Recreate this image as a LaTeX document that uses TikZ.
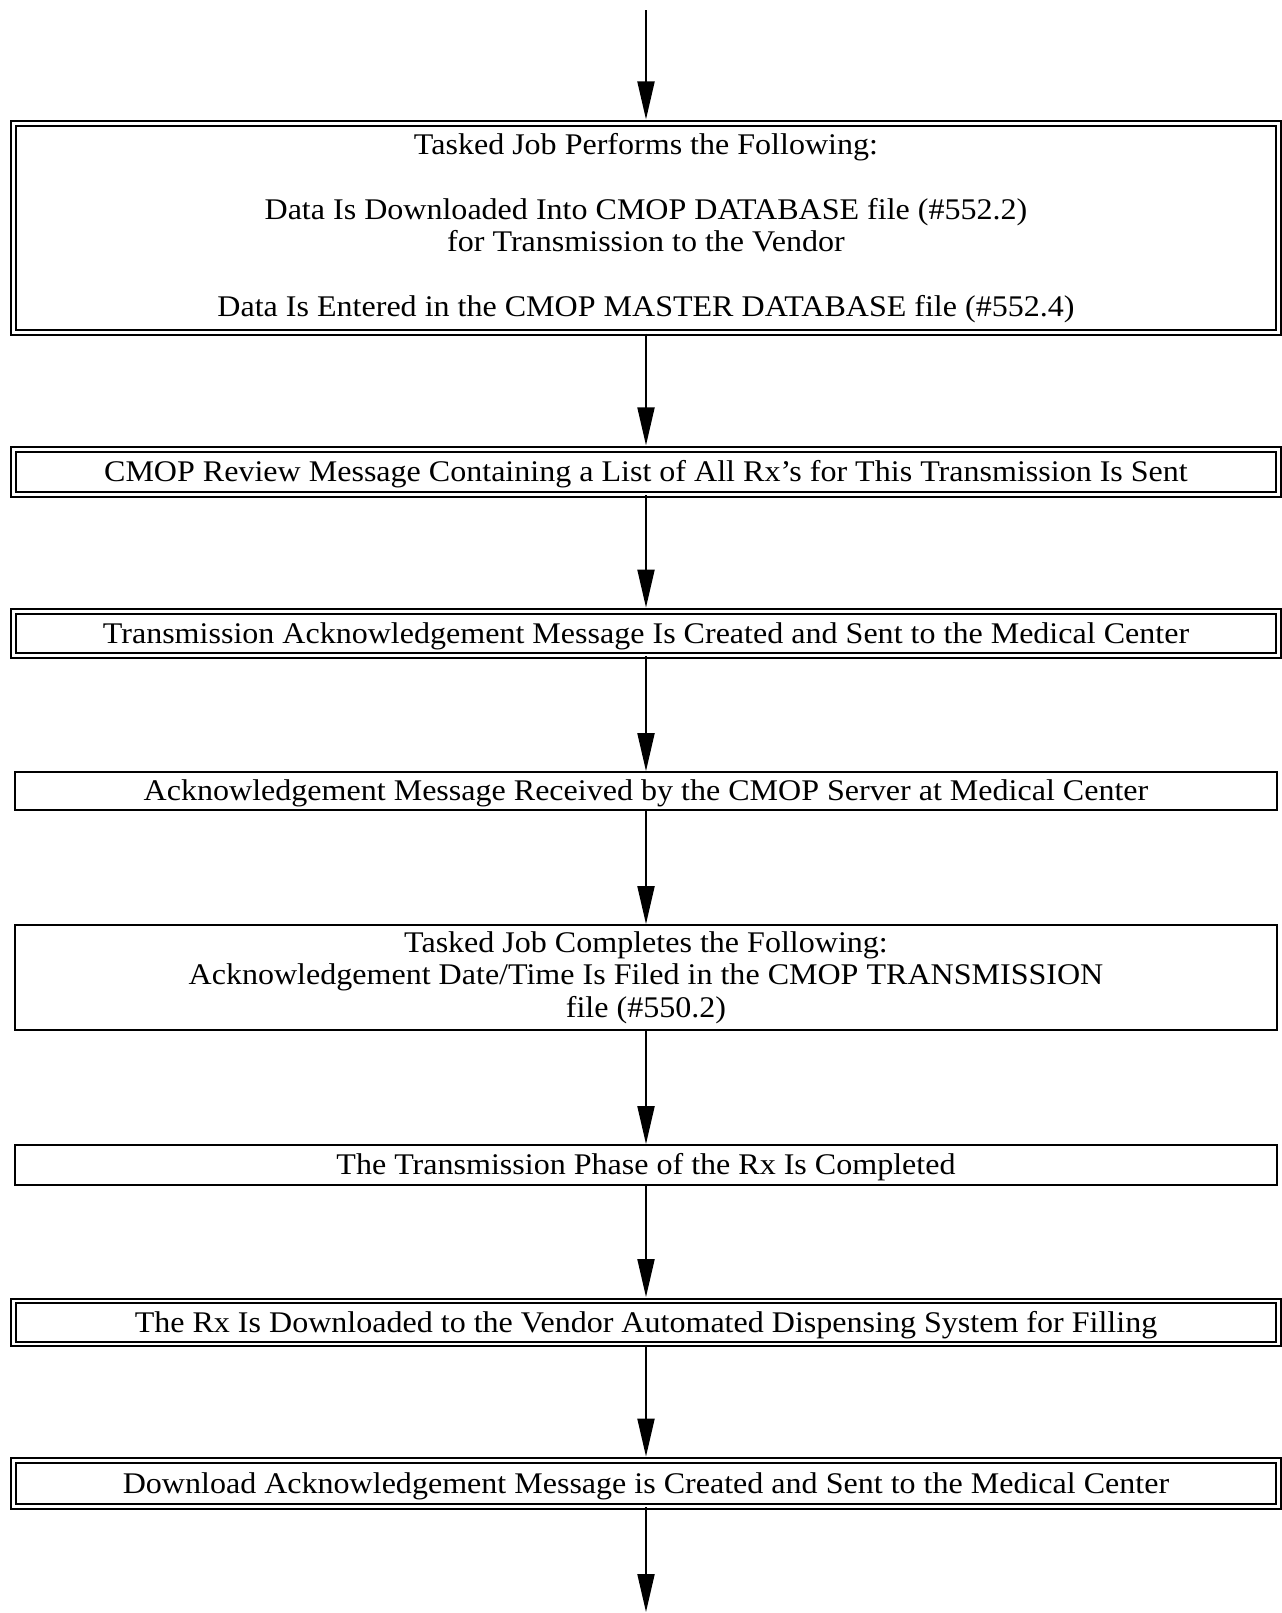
\documentclass[tikz,border=0pt]{standalone}
\usepackage{fontspec}
\setmainfont[FakeStretch=1.068]{Liberation Serif}
\usetikzlibrary{arrows.meta}

\begin{document}
\begin{tikzpicture}[
  x=0.5pt, y=-0.5pt,
  every node/.style={font=\fontsize{15pt}{16.25pt}\selectfont},
  stepbox/.style={rectangle, draw, line width=0.9pt, minimum width=631.2pt, inner sep=0pt, align=center},
  dblbox/.style={rectangle, draw, line width=0.95pt, double, double distance=1.3pt, minimum width=632.6pt, inner sep=0pt, align=center},
  oneline/.style={text height=9.9pt, text depth=0pt},
  arrow/.style={-{Triangle[length=19pt,width=8.5pt]}, line width=1pt}
]
\useasboundingbox (0,0) rectangle (1281,1613);

% Entry
\coordinate (start) at (646,10);

% Transmission
\node[dblbox, minimum height=104.6pt] (tasked) at (646,228) {Tasked Job Performs the Following:\\[16.25pt]
  Data Is Downloaded Into CMOP DATABASE file (\#552.2)\\
  for Transmission to the Vendor\\[16.25pt]
  Data Is Entered in the CMOP MASTER DATABASE file (\#552.4)};
\node[dblbox, oneline, minimum height=22.5pt] (review) at (646,471.8) {CMOP Review Message Containing a List of All Rx’s for This Transmission Is Sent};
\node[dblbox, oneline, minimum height=22pt] (transack) at (646,633.5) {Transmission Acknowledgement Message Is Created and Sent to the Medical Center};

% Medical Center
\node[stepbox, oneline, minimum height=19pt] (received) at (646,791) {Acknowledgement Message Received by the CMOP Server at Medical Center};
\node[stepbox, minimum height=52.5pt] (completes) at (646,977.5) {Tasked Job Completes the Following:\\
  Acknowledgement Date/Time Is Filed in the CMOP TRANSMISSION\\
  file (\#550.2)};
\node[stepbox, oneline, minimum height=20pt] (phase) at (646,1165) {The Transmission Phase of the Rx Is Completed};

% Vendor
\node[dblbox, oneline, minimum height=21.5pt] (download) at (646,1322.5) {The Rx Is Downloaded to the Vendor Automated Dispensing System for Filling};
\node[dblbox, oneline, minimum height=23pt] (dlack) at (646,1483.5) {Download Acknowledgement Message is Created and Sent to the Medical Center};

% Exit
\coordinate (finish) at (646,1612);

% Arrows
\draw[arrow, shorten >=1.5pt] (start) -- (tasked);
\draw[arrow, shorten >=1.5pt] (tasked) -- (review);
\draw[arrow, shorten >=1.5pt] (review) -- (transack);
\draw[arrow] (transack) -- (received);
\draw[arrow] (received) -- (completes);
\draw[arrow] (completes) -- (phase);
\draw[arrow, shorten >=1.5pt] (phase) -- (download);
\draw[arrow, shorten >=1.5pt] (download) -- (dlack);
\draw[arrow] (dlack) -- (finish);

\end{tikzpicture}
\end{document}
